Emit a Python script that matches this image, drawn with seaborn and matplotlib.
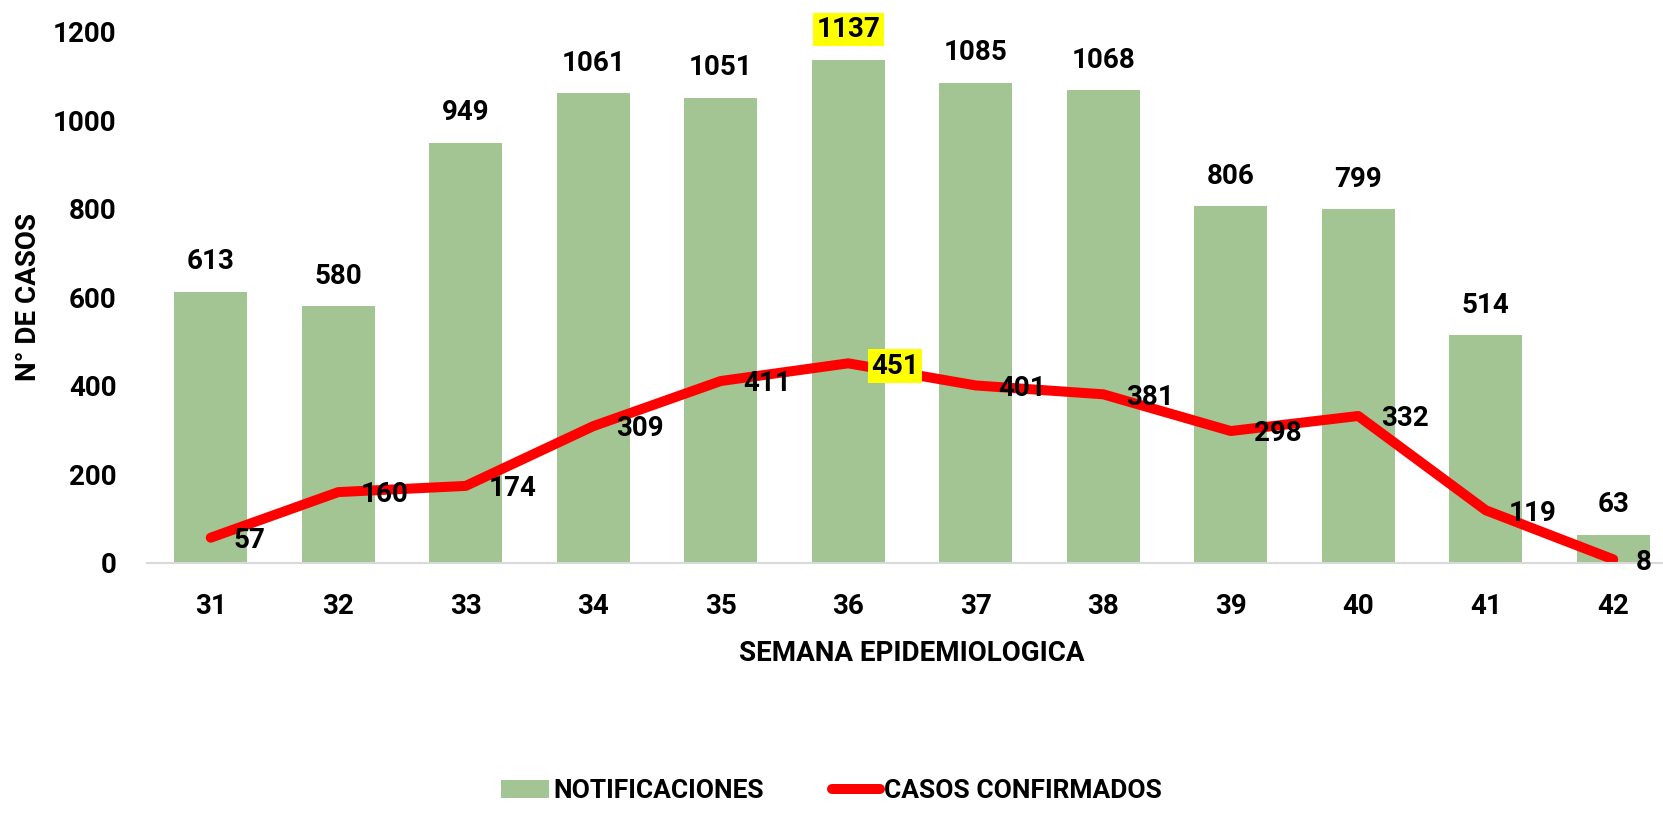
import numpy as np
import pandas as pd
import matplotlib
matplotlib.use("Agg")
import matplotlib.pyplot as plt
from matplotlib.patches import Patch
from matplotlib.lines import Line2D
import seaborn as sns

# Weekly surveillance data
semanas = ["31", "32", "33", "34", "35", "36", "37", "38", "39", "40", "41", "42"]
notificaciones = [613, 580, 949, 1061, 1051, 1137, 1085, 1068, 806, 799, 514, 63]
confirmados = [57, 160, 174, 309, 411, 451, 401, 381, 298, 332, 119, 8]
y_ticks = [0, 200, 400, 600, 800, 1000, 1200]
highlight_week = "36"

BAR_COLOR = "#A3C493"
LINE_COLOR = "#FF0000"
FS = 20

sns.set_theme(style="white")
plt.rcParams["font.family"] = ["Roboto", "DejaVu Sans"]
plt.rcParams["font.weight"] = "bold"

df = pd.DataFrame({"semana": semanas, "notificaciones": notificaciones,
                   "confirmados": confirmados})
df["pos"] = np.arange(len(df))

fig = plt.figure(figsize=(16.63, 8.17), dpi=100)
ax = fig.add_axes([0.0884, 0.311, 0.92, 0.65])

sns.barplot(data=df, x="semana", y="notificaciones", color=BAR_COLOR,
            width=0.57, saturation=1, edgecolor="none", ax=ax)
sns.lineplot(data=df, x="pos", y="confirmados", color=LINE_COLOR,
             linewidth=7.2, solid_capstyle="round", solid_joinstyle="round",
             ax=ax, legend=False)

ax.set_xlim(-0.5, len(semanas) - 0.5)
ax.set_ylim(0, 1200)
ax.set_yticks(y_ticks)
ax.tick_params(axis="y", labelsize=FS, pad=22, length=0, labelcolor="black")
ax.tick_params(axis="x", labelsize=FS, pad=22, length=0, labelcolor="black")
for lab in ax.get_xticklabels() + ax.get_yticklabels():
    lab.set_fontweight("bold")

for s in ["top", "right", "left"]:
    ax.spines[s].set_visible(False)
ax.spines["bottom"].set_color("#D9D9D9")
ax.spines["bottom"].set_linewidth(1.5)
ax.grid(False)

ax.set_xlabel("SEMANA EPIDEMIOLOGICA", fontsize=FS, fontweight="bold",
              labelpad=14, color="black")
ax.set_ylabel("N° DE CASOS", fontsize=FS, fontweight="bold", labelpad=8,
              color="black")

hl = dict(boxstyle="square,pad=0.12", facecolor="#FFFF00", edgecolor="none")

# Bar value labels
for _, r in df.iterrows():
    ax.annotate(str(r["notificaciones"]), (r["pos"], r["notificaciones"]),
                xytext=(0, 12), textcoords="offset points", ha="center",
                va="bottom", fontsize=FS, fontweight="bold", color="black",
                annotation_clip=False,
                bbox=hl if r["semana"] == highlight_week else None)

# Line value labels, placed to the right of each point
for _, r in df.iterrows():
    ax.annotate(str(r["confirmados"]), (r["pos"], r["confirmados"]),
                xytext=(16.5, -2), textcoords="offset points", ha="left",
                va="center", fontsize=FS, fontweight="bold", color="black",
                annotation_clip=False,
                bbox=hl if r["semana"] == highlight_week else None, zorder=5)

handles = [Patch(facecolor=BAR_COLOR, edgecolor="none"),
           Line2D([], [], color=LINE_COLOR, linewidth=7.2, solid_capstyle="round")]
fig.legend(handles, ["NOTIFICACIONES", "CASOS CONFIRMADOS"], loc="lower center",
           bbox_to_anchor=(0.5, -0.012), ncol=2, frameon=False,
           prop={"size": FS - 1, "weight": "bold"}, handlelength=1.8,
           handletextpad=0.15, columnspacing=2.6, labelcolor="black")

fig.savefig("out.png", dpi=100)
